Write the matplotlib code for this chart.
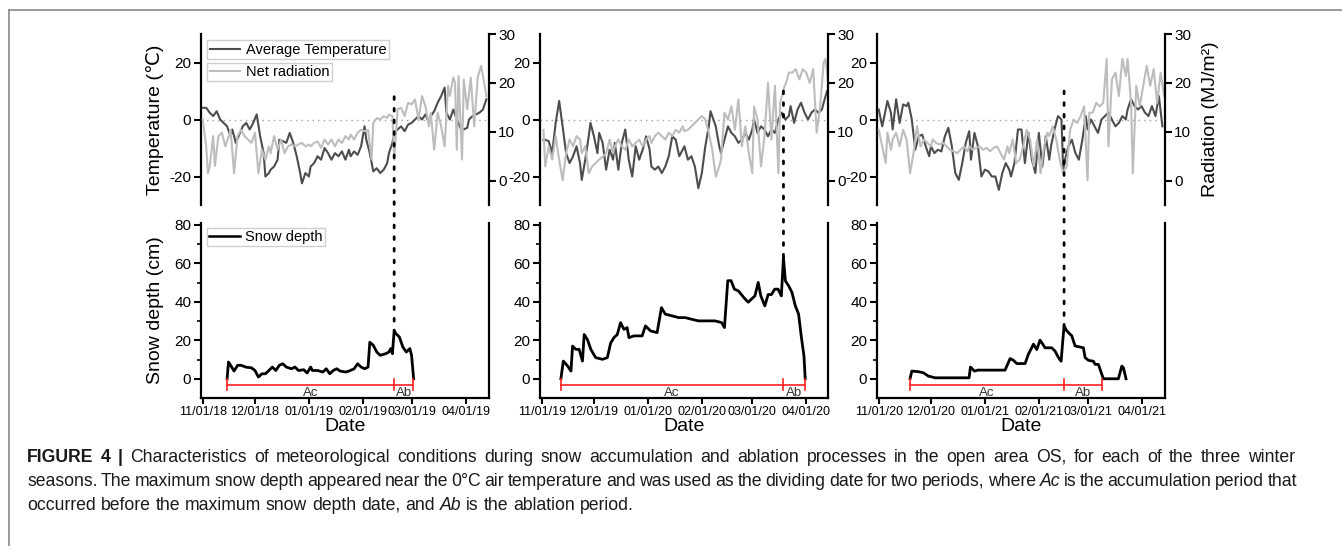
import matplotlib
matplotlib.use('Agg')
import matplotlib.pyplot as plt
import matplotlib.dates as mdates
from matplotlib.patches import ConnectionPatch
from matplotlib.lines import Line2D
import numpy as np

plt.rcParams['font.family'] = ['Liberation Sans', 'DejaVu Sans']
plt.rcParams['axes.unicode_minus'] = False

# ---------------- data ----------------
season_starts = ['2018-11-01', '2019-11-01', '2020-11-01']

# daily mean air temperature (deg C), day offset from Nov 1
t1_days = [0,2,4,6,8,10,12,14,16,17,19,21,23,25,27,29,31,33,35,36,38,39,41,43,44,46,48,50,52,54,
           56,57,59,61,62,64,66,68,70,72,74,76,78,80,82,84,85,87,89,91,93,94,96,98,100,102,104,106,107,109,
           110,112,114,116,118,120,122,124,126,128,130,131,133,135,137,139,140,142,144,146,148,150,152,153,155,157,159,161,163]
t1_vals = [4.1,4.1,2.4,1.2,2.9,0,-1.2,-2.4,-5.9,-3.5,-8.2,-5.3,-2.4,-1.2,-3.5,-1.2,1.8,-5.9,-11.8,-20,
           -18.8,-17.6,-16.5,-14.1,-7.1,-7.6,-8.2,-4.7,-8.2,-12.9,-18.8,-22.4,-18.8,-20,-16.5,-15.3,-12.9,-14.1,-10,-11.8,
           -14.1,-11.8,-12.9,-11.2,-14.1,-10.6,-12.9,-11.2,-12.4,-9.4,-2.4,-7.1,-11.8,-18.2,-17.1,-18.8,-17.6,-15.3,-11.8,-8.2,
           -4.7,-3.5,-2.4,-4.1,-1.8,-1.2,0,1.2,0,1.8,-1.2,1.2,2.9,5.9,8.2,11.2,2.4,0,3.5,0,
           -2.9,-3.5,-2.9,0,1.2,1.8,2.4,3.5,7.1]
t2_days = [1,2,4,6,8,10,12,14,16,18,20,22,23,25,27,28,30,32,33,35,37,39,41,42,44,46,48,50,52,54,
           56,58,60,62,63,65,67,69,71,73,75,77,79,81,82,84,86,88,90,92,94,96,97,100,102,103,105,107,109,111,
           113,115,117,119,121,122,124,126,128,130,132,134,136,138,140,142,143,145,147,149,151,153,155,157,159,161,162,164]
t2_vals = [-7.1,-7.1,-7.6,-11.8,-1.2,6.5,-2.4,-11.8,-15.3,-12.9,-9.4,-15.3,-21.2,-14.1,-5.9,-1.2,-5.9,-11.8,-4.7,-8.2,
           -17.6,-10.6,-14.1,-8.2,-17.6,-8.2,-3.5,-14.1,-20,-9.4,-14.1,-10.6,-5.9,-10.6,-16.5,-17.6,-16.5,-18.8,-16.5,-12.9,
           -5.9,-7.1,-12.9,-10.6,-9.4,-14.1,-12.9,-16.5,-24.1,-18.8,-9.4,-2.4,2.9,-2.4,-9.4,-11.8,-7.1,-2.4,-4.7,-5.9,
           -8.2,-7.1,-4.7,-7.1,-3.5,0,-4.7,-2.4,-3.5,-5.9,-3.5,-4.7,0,2.4,0,1.2,4.7,-1.2,3.5,5.9,
           2.4,0,2.4,3.5,2.4,3.5,5.9,10]
t3_days = [0,2,4,5,7,8,10,12,14,16,17,19,21,23,25,27,29,30,32,34,36,38,40,42,44,46,48,50,52,53,
           55,57,59,61,63,65,67,69,71,73,75,76,78,80,82,84,86,88,90,92,94,96,98,99,101,103,105,106,107,109,
           111,113,115,117,119,120,122,124,126,128,130,132,134,136,138,140,142,143,145,147,149,151,153,155,157,159,161,163]
t3_vals = [3.5,-2.4,3.5,6.5,2.4,-3.5,7.1,-1.2,5.3,4.7,5.9,0,-10.6,-5.9,-5.3,-9.4,-12.9,-9.4,-11.8,-10.6,
           -11.2,-5.9,-2.9,-9.4,-18.8,-21.2,-15.3,-8.2,-4.1,-14.1,-4.7,-9.4,-20,-17.6,-18.2,-20,-20,-24.7,-18.8,-15.3,
           -17.6,-20,-15.3,-3.5,-3.5,-15.3,-4.7,-14.1,-18.8,-4.7,-16.5,-5.9,-14.1,-9.4,-3.5,1.2,0,-17.6,-14.1,-9.4,
           -7.1,-11.8,-14.1,-7.1,1.2,-3.5,0,-2.4,-4.7,0,1.2,2.4,0,-2.4,-1.2,1.2,0,3.5,7.1,4.7,
           3.5,4.7,2.4,1.2,4.7,1.2,8.2,-2.4]

# net radiation (MJ/m2)
r1_days = [0,2,3,4,6,7,9,11,13,15,16,18,20,22,24,26,28,30,32,34,36,38,39,41,43,45,47,49,51,53,
           55,57,59,61,62,64,66,68,70,72,74,76,78,80,82,84,85,87,89,91,93,95,97,98,100,102,104,106,107,109,
           110,112,114,116,118,120,122,124,126,128,130,131,133,135,137,139,141,142,144,145,146,147,149,150,152,154,156,158,160,163]
r1_vals = [12.5,7.0,1.5,2.9,9.1,3.0,9.1,9.8,7.0,9.1,10.4,1.5,9.1,10.4,9.1,8.4,7.7,9.8,1.5,6.3,
           4.3,7.0,5.6,9.1,6.3,8.4,5.6,7.0,7.4,7.0,7.4,7.7,7.0,7.4,7.0,7.7,8.0,6.7,8.4,7.4,
           8.4,7.0,8.4,7.7,9.1,8.4,9.4,8.4,9.8,10.4,10.1,10.4,4.3,11.8,12.8,12.5,13.2,12.8,13.5,13.2,
           4.3,14.6,14.9,13.2,15.9,15.6,16.6,12.5,17.3,15.2,11.1,13.9,6.3,13.9,11.1,7.0,19.4,17.3,21.1,20.0,
           6.3,21.4,4.3,20.7,14.6,21.1,11.1,21.1,23.5,17.3]
r2_days = [1,2,4,6,8,10,12,14,16,18,20,22,23,25,27,29,31,33,35,37,39,41,42,44,46,48,50,52,54,56,
           58,60,62,63,65,67,69,71,73,75,77,79,81,82,84,86,88,90,92,94,96,98,100,102,103,105,107,109,111,113,
           115,117,119,121,122,124,126,128,130,132,134,136,137,139,141,142,144,146,148,150,152,154,156,158,160,162,163,165]
r2_vals = [10.4,2.9,7.0,4.3,9.1,4.3,0.1,5.6,8.4,7.0,9.1,8.4,5.6,7.0,1.5,2.9,3.6,4.3,4.9,5.6,
           8.4,5.6,7.0,8.4,7.0,6.3,8.4,7.0,7.7,8.4,7.0,8.4,9.1,7.7,9.1,9.8,9.1,8.4,9.8,9.1,
           10.4,9.8,11.1,10.1,10.4,11.1,11.8,12.5,13.2,12.5,9.8,6.3,0.8,2.9,4.3,13.9,12.5,15.2,10.4,16.6,
           7.0,11.1,5.6,1.5,15.2,12.5,2.9,9.1,20.0,8.4,19.4,1.5,15.9,18.7,20.7,22.1,22.1,22.8,20.7,22.8,
           22.1,20.0,22.8,9.8,15.2,24.2,24.9,19.4]
r3_days = [0,2,4,5,7,8,10,12,14,16,18,20,22,24,26,28,30,31,33,35,37,39,41,43,45,47,49,51,52,54,
           56,58,60,62,64,66,68,70,72,74,75,77,79,81,83,85,87,89,91,93,95,97,98,100,102,104,106,108,110,112,
           114,116,118,120,121,123,125,127,129,131,132,134,136,138,140,142,143,145,146,148,150,152,154,156,158,160,162,164]
r3_vals = [10.4,7.0,3.6,9.8,6.3,8.4,9.8,7.0,10.4,8.4,1.5,5.6,11.1,7.0,8.4,7.7,7.0,8.4,7.7,7.4,
           7.7,7.0,6.3,6.0,5.6,6.3,7.0,6.0,7.0,6.3,6.7,7.0,6.3,6.7,6.0,6.7,7.0,5.6,4.3,7.0,
           5.6,8.4,3.6,4.3,7.0,10.4,8.4,2.9,8.4,1.5,7.0,9.8,9.1,11.1,8.4,4.3,1.5,2.9,10.4,12.5,
           11.8,13.2,15.2,0.1,13.9,13.9,15.9,15.2,15.9,24.9,7.0,20.7,22.1,17.3,24.9,21.4,24.9,15.9,1.5,19.4,
           15.2,19.4,23.5,19.4,22.8,15.9,22.1,17.3]

# snow depth (cm)
s1_days = [14,14.8,16,18,20,22,25,28,30,32,34,36,38,40,42,44,46,48,51,53,55,58,60,62,63,66,69,71,73,75,
           77,79,82,84,87,89,91,93,95,96,98,100,102,105,107,108,109,110,111,113,115,117,119,120,120.6,121.2]
s1_vals = [0,8.7,7,4,7,7,6,5.7,4.3,0.9,2.6,2.6,4.3,6.1,4.3,7,7.8,6.1,5.2,6.1,4.3,4.7,3,6.1,4.3,4.3,3.5,5.2,2.6,4.3,
           5.2,4,3.5,4,5.2,7.8,6.1,5.2,6.1,19,17.4,13.9,12.2,13,13.9,15.7,13,25,23.5,21.7,16.5,13.9,15.7,12.2,6,0]
s2_days = [11,12.4,14.9,16.8,17.7,19.6,21.5,23.4,24.4,26.3,28.2,31,34.9,37.7,39.6,41.5,43.4,45.3,47.2,49.1,
           50.1,53,57.7,59.6,62.5,66.3,68.8,71,74.9,78.7,82.5,86.3,90.1,93.9,99.6,103.4,105,106.9,108.8,110.7,
           113,116.8,118.7,120.6,122.5,124.4,125.9,128.2,130.1,132,133.9,135.8,137.7,138.9,140,141.9,143.8,145.7,147.6,149.1,
           150.7,151.4]
s2_vals = [0,9.2,6.6,4,17,15.3,15.3,9.2,23,20.3,15.3,11,10.1,11,18.6,21.4,23,29.2,25.7,26.6,
           21.4,22.3,22.3,27.5,24.9,24,37,33.6,32.7,31.8,31.8,30.9,30.1,30.1,30.1,29.2,26.6,51,51,46.6,
           45.7,41.5,39.8,41.5,43.1,50.1,43.1,37.9,43.8,43.8,46.6,46.6,43.1,63,50.9,48.3,44.9,38,33.6,22.3,
           11.8,0]
s3_days = [18,19,22.8,25.7,28.5,32.4,51.9,52.7,55,56.9,72.6,73.6,75.5,77.4,79.3,84.1,86,87.9,88.9,90.8,
           92.7,95.6,99.4,101.3,103.3,104.8,105.6,106.5,108,109.9,110.9,112.8,117.6,118.6,120.5,123.4,124.3,126.2,128.2,129.1,
           137.7,139.7,140.6,142.1]
s3_vals = [0,4,3.7,3.1,1.4,0.5,0.5,6.1,4,4.5,4.5,6.6,10.5,9.6,7.9,7.9,12.8,16.1,18,15.2,
           20.1,16.1,16.1,14.4,11,9.1,18,27.5,25,23.2,22.4,17.1,16.1,11,9.6,9.1,7.5,7.5,2.3,0,
           0,6.6,5.7,0]

# accumulation start and ablation end (day offsets); peak = max snow depth
ac_start_days = [14, 11, 18]
ab_end_days = [121, 151.4, 128.2]
vline_top_temp = [8, 10, 10]

temp_days = [t1_days, t2_days, t3_days]
temp_vals = [t1_vals, t2_vals, t3_vals]
rad_days = [r1_days, r2_days, r3_days]
rad_vals = [r1_vals, r2_vals, r3_vals]
snow_days = [s1_days, s2_days, s3_days]
snow_vals = [s1_vals, s2_vals, s3_vals]

# ---------------- figure ----------------
W, H = 1342, 546
fig = plt.figure(figsize=(W / 100, H / 100), dpi=100)

TEMP_C = '#4d4d4d'
RAD_C = '#bdbdbd'
lefts = [201, 540, 877]
pw = 288
SPW = 1.6

def style_axis(ax):
    ax.tick_params(axis='both', which='major', direction='out', length=5, width=1.5, labelsize=11, pad=2)
    ax.tick_params(axis='both', which='minor', direction='out', length=3, width=1.2)

for i in range(3):
    base = mdates.date2num(np.datetime64(season_starts[i]))
    xlim = (base - 1, base + 164.5)

    # ---- top panel ----
    axt = fig.add_axes([lefts[i] / W, 1 - 205 / H, pw / W, 171 / H])
    axt.patch.set_alpha(0)
    axr = axt.twinx()
    axr.patch.set_alpha(0)
    for a in (axt, axr):
        for s in a.spines.values():
            s.set_visible(False)
    axt.spines['left'].set_visible(True)
    axt.spines['left'].set_linewidth(SPW)
    axr.spines['right'].set_visible(True)
    axr.spines['right'].set_linewidth(SPW)
    style_axis(axt)
    style_axis(axr)
    axr.tick_params(axis='y', pad=1.5)
    axt.tick_params(axis='x', bottom=False, labelbottom=False)
    axr.tick_params(axis='x', bottom=False, labelbottom=False)

    axt.axhline(0, color='#a0a0a0', ls=(0, (1, 3)), lw=1.0, zorder=1)
    axt.plot(base + np.array(temp_days[i]), temp_vals[i], color=TEMP_C, lw=1.5, zorder=3)
    axr.plot(base + np.array(rad_days[i]), rad_vals[i], color=RAD_C, lw=1.5, zorder=2)
    axt.set_ylim(-30, 30)
    axt.set_yticks([-20, 0, 20])
    axr.set_ylim(-5, 30)
    axr.set_yticks([0, 10, 20, 30])
    axt.set_xlim(*xlim)

    # ---- bottom panel ----
    axb = fig.add_axes([lefts[i] / W, 1 - 398 / H, pw / W, 175 / H])
    axb.patch.set_alpha(0)
    axb.spines['top'].set_visible(False)
    for k in ('left', 'right', 'bottom'):
        axb.spines[k].set_linewidth(SPW)
    style_axis(axb)
    axb.tick_params(axis='y', right=False)
    sd = base + np.array(snow_days[i])
    sv = np.array(snow_vals[i])
    axb.plot(sd, sv, color='black', lw=2.0, zorder=3)
    axb.set_ylim(-10, 81)
    axb.set_yticks([0, 20, 40, 60, 80])
    axb.set_yticks([10, 30, 50, 70], minor=True)
    axb.set_xlim(*xlim)
    axb.xaxis.set_major_locator(mdates.MonthLocator())
    axb.xaxis.set_major_formatter(mdates.DateFormatter('%m/%d/%y'))
    axb.tick_params(axis='x', labelsize=9, length=4, pad=2)
    axb.set_xlabel('Date', fontsize=14, labelpad=0)

    # periods
    kpk = int(np.argmax(sv))
    x_ac = base + ac_start_days[i]
    x_pk = sd[kpk]
    x_ab = base + ab_end_days[i]
    axb.plot([x_ac, x_ab], [-3, -3], color='#ff2020', lw=1.2, zorder=4)
    for xx in (x_ac, x_pk, x_ab):
        axb.plot([xx, xx], [-6, 0], color='#ff2020', lw=1.2, zorder=4)
    axb.text((x_ac + x_pk) / 2, -7.3, 'Ac', ha='center', va='center', fontsize=9.5, color='#333333')
    axb.text((x_pk + x_ab) / 2, -7.3, 'Ab', ha='center', va='center', fontsize=9.5, color='#333333')

    # dividing line (max snow depth date)
    con = ConnectionPatch(xyA=(x_pk, vline_top_temp[i]), coordsA=axt.transData,
                          xyB=(x_pk, sv[kpk]), coordsB=axb.transData,
                          color='black', lw=2.0, ls=(0, (1, 3.2)), zorder=5)
    fig.add_artist(con)

    if i == 0:
        axt.set_ylabel('Temperature (℃)', fontsize=14)
        axt.yaxis.set_label_coords(-0.13, 0.5)
        axb.set_ylabel('Snow depth (cm)', fontsize=14)
        axb.yaxis.set_label_coords(-0.13, 0.5)
        leg1 = axr.legend([Line2D([], [], color=TEMP_C, lw=1.5)], ['Average Temperature'],
                          loc='upper left', bbox_to_anchor=(0.022, 0.962), fontsize=10.5,
                          fancybox=False, edgecolor='#cfcfcf', framealpha=1, borderpad=0.15,
                          handlelength=2.1, handletextpad=0.4, borderaxespad=0)
        leg1.get_frame().set_linewidth(1.0)
        axr.add_artist(leg1)
        leg2 = axr.legend([Line2D([], [], color=RAD_C, lw=1.5)], ['Net radiation'],
                          loc='upper left', bbox_to_anchor=(0.022, 0.832), fontsize=10.5,
                          fancybox=False, edgecolor='#cfcfcf', framealpha=1, borderpad=0.15,
                          handlelength=2.1, handletextpad=0.4, borderaxespad=0)
        leg2.get_frame().set_linewidth(1.0)
        leg3 = axb.legend([Line2D([], [], color='black', lw=1.8)], ['Snow depth'],
                          loc='upper left', bbox_to_anchor=(0.02, 0.972), fontsize=10.5,
                          fancybox=False, edgecolor='#cfcfcf', framealpha=1, borderpad=0.15,
                          handlelength=2.1, handletextpad=0.4, borderaxespad=0)
        leg3.get_frame().set_linewidth(1.0)
    if i == 2:
        axr.set_ylabel('Radiation (MJ/m²)', fontsize=14)
        axr.yaxis.set_label_coords(1.128, 0.5)

# ---------------- frame ----------------
fig.add_artist(Line2D([9 / W, 9 / W], [0, 1 - 10 / H], transform=fig.transFigure, color='#8a8a8a', lw=1.2))
fig.add_artist(Line2D([9 / W, 1], [1 - 10 / H, 1 - 10 / H], transform=fig.transFigure, color='#8a8a8a', lw=1.2))

# ---------------- caption (justified lines) ----------------
renderer = fig.canvas.get_renderer()
CAP = 12.7
X0 = 27

def text_width(s, **kw):
    t = fig.text(0, 0, s, fontsize=CAP, **kw)
    w = t.get_window_extent(renderer).width
    t.remove()
    return w

SPACE = text_width('a a') - text_width('aa')

def draw_line(y_base_px, segments, target_w=None):
    words = []
    for txt, kw in segments:
        for w in txt.split():
            words.append((w, kw))
    widths = [text_width(w, **kw) for w, kw in words]
    if target_w is not None and len(words) > 1:
        gap = (target_w - sum(widths)) / (len(words) - 1)
    else:
        gap = SPACE
    x = X0
    for (w, kw), wd in zip(words, widths):
        fig.text(x / W, 1 - y_base_px / H, w, fontsize=CAP, ha='left', va='baseline',
                 color='#1a1a1a', **kw)
        x += wd + gap

draw_line(462, [('FIGURE 4 |', dict(fontweight='bold')),
                ('Characteristics of meteorological conditions during snow accumulation and ablation processes in the open area OS, for each of the three winter', {})],
          target_w=1268)
draw_line(486, [('seasons. The maximum snow depth appeared near the 0°C air temperature and was used as the dividing date for two periods, where', {}),
                ('Ac', dict(style='italic')),
                ('is the accumulation period that', {})],
          target_w=1270)
draw_line(510, [('occurred before the maximum snow depth date, and', {}),
                ('Ab', dict(style='italic')),
                ('is the ablation period.', {})])

fig.savefig('out.png', dpi=100)
